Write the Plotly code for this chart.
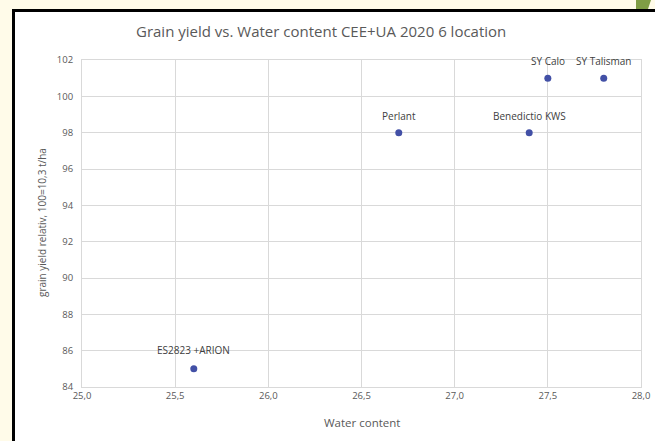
import plotly.graph_objects as go

varieties = ["ES2823 +ARION", "Perlant", "Benedictio KWS", "SY Calo", "SY Talisman"]
water_content = [25.6, 26.7, 27.4, 27.5, 27.8]
grain_yield = [85, 98, 98, 101, 101]

x_ticks = [25.0, 25.5, 26.0, 26.5, 27.0, 27.5, 28.0]
x_tick_labels = ["25,0", "25,5", "26,0", "26,5", "27,0", "27,5", "28,0"]
y_ticks = [84, 86, 88, 90, 92, 94, 96, 98, 100, 102]

W, H = 655, 441
L, R, T, B = 82, 14, 60, 54
pw, ph = W - L - R, H - T - B

def px(x):
    return (x - L) / pw

def py(y):
    return 1 - (y - T) / ph

fig = go.Figure()
fig.add_trace(go.Scatter(
    x=water_content, y=grain_yield, mode="markers",
    marker=dict(color="#4250a6", size=7),
    hoverinfo="skip", showlegend=False,
))

annotations = []
for name, xv, yv in zip(varieties, water_content, grain_yield):
    annotations.append(dict(
        x=xv, y=yv, xref="x", yref="y", text=name, showarrow=False,
        yshift=17 if yv > 90 else 19,
        font=dict(family="Open Sans", size=10, color="#404040"),
    ))

annotations += [
    dict(x=px(321), y=py(31), xref="paper", yref="paper", text="Grain yield vs. Water content CEE+UA 2020 6 location",
         showarrow=False, font=dict(family="Open Sans", size=15, color="#595959"), xanchor="center", yanchor="middle"),
    dict(x=px(362), y=py(422), xref="paper", yref="paper", text="Water content",
         showarrow=False, font=dict(family="Open Sans", size=11.5, color="#595959"), xanchor="center", yanchor="middle"),
    dict(x=px(42), y=py(223), xref="paper", yref="paper", text="grain yield relativ, 100=10,3 t/ha",
         showarrow=False, textangle=-90, font=dict(family="Open Sans", size=10, color="#595959"),
         xanchor="center", yanchor="middle"),
]

shapes = [
    dict(type="rect", xref="paper", yref="paper", x0=px(13), x1=px(655), y0=py(10), y1=py(441),
         fillcolor="white", line=dict(width=0), layer="below"),
    dict(type="path", xref="paper", yref="paper",
         path=f"M {px(13.5)},{py(441)} L {px(13.5)},{py(10.5)} L {px(655)},{py(10.5)}",
         line=dict(color="black", width=3), layer="below"),
    dict(type="path", xref="paper", yref="paper",
         path=f"M {px(636)},{py(0)} L {px(651)},{py(0)} L {px(648)},{py(9)} L {px(636)},{py(9)} Z",
         fillcolor="#7f9d45", line=dict(width=0), layer="below"),
]

fig.update_layout(
    width=W, height=H,
    margin=dict(l=L, r=R, t=T, b=B, autoexpand=False),
    paper_bgcolor="#fffbe9",
    plot_bgcolor="rgba(0,0,0,0)",
    annotations=annotations,
    shapes=shapes,
    xaxis=dict(range=[25, 28], tickvals=x_ticks, ticktext=x_tick_labels, automargin=False,
               showgrid=True, gridcolor="#d9d9d9", gridwidth=1, zeroline=False,
               showline=True, linecolor="#d9d9d9", linewidth=1, mirror=True,
               ticks="", tickfont=dict(family="Open Sans", size=9.5, color="#595959")),
    yaxis=dict(range=[84, 102], tickvals=y_ticks, automargin=False,
               showgrid=True, gridcolor="#d9d9d9", gridwidth=1, zeroline=False,
               showline=True, linecolor="#d9d9d9", linewidth=1, mirror=True,
               ticks="", ticklabelstandoff=6,
               tickfont=dict(family="Open Sans", size=9.5, color="#595959")),
)

fig.write_html(
    "out.html",
    config={"displayModeBar": False},
    post_script="document.body.style.margin='0';",
)
